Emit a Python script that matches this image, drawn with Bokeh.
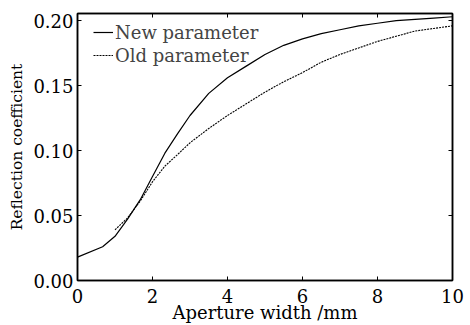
from bokeh.plotting import figure
from bokeh.models import Range1d, FixedTicker, LinearAxis, Legend, LegendItem, NumeralTickFormatter
from bokeh.embed import file_html
from bokeh.resources import INLINE

x_new = [0, 0.67, 1.0, 1.33, 1.67, 2.0, 2.33, 2.67, 3.0, 3.5, 4.0, 4.5, 5.0, 5.5, 6.0, 6.5, 7.0, 7.5, 8.0, 8.5, 9.0, 9.5, 10]
y_new = [0.018, 0.026, 0.034, 0.047, 0.062, 0.080, 0.098, 0.113, 0.127, 0.144, 0.156, 0.165, 0.174, 0.181, 0.186, 0.190, 0.193, 0.196, 0.198, 0.200, 0.201, 0.202, 0.203]
x_old = [1.0, 1.33, 1.67, 2.0, 2.33, 2.67, 3.0, 3.5, 4.0, 4.5, 5.0, 5.5, 6.0, 6.5, 7.0, 7.5, 8.0, 8.5, 9.0, 9.5, 10]
y_old = [0.039, 0.048, 0.061, 0.076, 0.088, 0.097, 0.106, 0.117, 0.127, 0.136, 0.145, 0.153, 0.160, 0.168, 0.174, 0.179, 0.184, 0.188, 0.192, 0.194, 0.196]
x_ticks = [0, 2, 4, 6, 8, 10]
y_ticks = [0.0, 0.05, 0.10, 0.15, 0.20]
x_title = "Aperture width /mm"
y_title = "Reflection coefficient"

FONT = "DejaVu Serif"
FS = "18px"

p = figure(width=470, height=325, output_backend="svg", toolbar_location=None,
           x_range=Range1d(0, 10), y_range=Range1d(0, 0.2055),
           min_border_left=77, min_border_right=18, min_border_top=13, min_border_bottom=45)
p.xgrid.visible = False
p.ygrid.visible = False
p.outline_line_color = "black"
p.outline_line_width = 1.5
p.background_fill_color = "white"
p.border_fill_color = "white"

r1 = p.line(x_new, y_new, line_color="black", line_width=1.2)
r2 = p.line(x_old, y_old, line_color="black", line_width=1.1, line_dash="2 1")

def style(ax):
    ax.major_tick_in = 4
    ax.major_tick_out = 0
    ax.minor_tick_in = 0
    ax.minor_tick_out = 0
    ax.axis_line_color = "black"
    ax.axis_line_width = 1.5
    ax.major_tick_line_color = "black"
    ax.major_label_text_font = FONT
    ax.major_label_text_font_size = FS
    ax.major_label_text_color = "black"
    ax.axis_label_text_font = FONT
    ax.axis_label_text_font_size = FS
    ax.axis_label_text_font_style = "normal"
    ax.axis_label_text_color = "black"

xa = p.xaxis[0]
xa.ticker = FixedTicker(ticks=x_ticks)
xa.axis_label = x_title
xa.major_label_standoff = 8
xa.axis_label_standoff = -4
style(xa)

ya = p.yaxis[0]
ya.ticker = FixedTicker(ticks=y_ticks)
ya.formatter = NumeralTickFormatter(format="0.00")
ya.axis_label = y_title
ya.axis_label_standoff = 4
ya.major_label_standoff = 4
style(ya)
ya.axis_label_text_font_size = "15.5px"

top = LinearAxis(ticker=FixedTicker(ticks=x_ticks))
style(top)
top.major_label_overrides = {t: "" for t in x_ticks}
p.add_layout(top, "above")
right = LinearAxis(ticker=FixedTicker(ticks=y_ticks))
style(right)
right.major_label_overrides = {t: "" for t in y_ticks}
p.add_layout(right, "right")

legend = Legend(items=[LegendItem(label="New parameter", renderers=[r1]),
                       LegendItem(label="Old parameter", renderers=[r2])],
                location=(16, 214), border_line_color=None, background_fill_alpha=0,
                label_text_font=FONT, label_text_font_size=FS,
                glyph_width=20, glyph_height=22, label_standoff=2, spacing=1,
                padding=0, margin=0)
p.add_layout(legend)

open("out.html", "w").write(file_html(p, INLINE))
